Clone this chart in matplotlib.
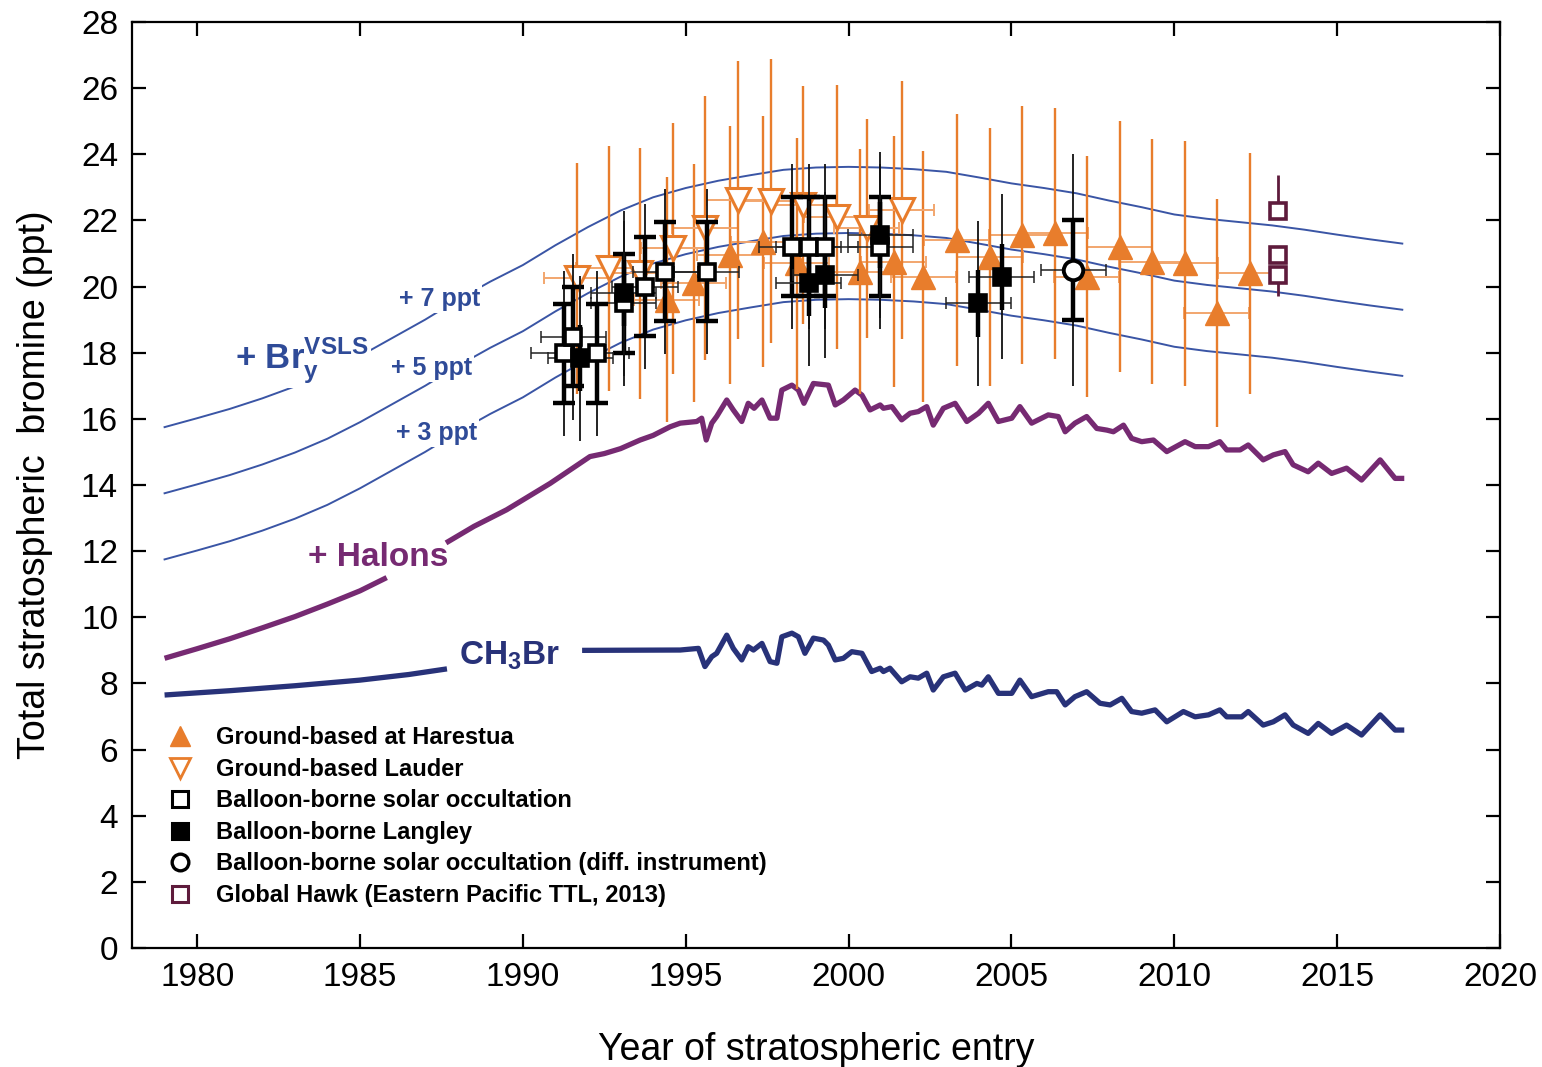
import numpy as np
import matplotlib
matplotlib.use("Agg")
import matplotlib.pyplot as plt
from matplotlib.lines import Line2D

plt.rcParams['font.family'] = ['Liberation Sans', 'DejaVu Sans']
plt.rcParams['mathtext.fontset'] = 'custom'
plt.rcParams['mathtext.rm'] = 'Liberation Sans'
plt.rcParams['mathtext.bf'] = 'Liberation Sans:bold'

# ---------------- data ----------------
ch3br_early_years = [1979.0, 1981.0, 1983.0, 1985.0, 1986.5, 1987.67]
ch3br_early_vals = [7.65, 7.78, 7.93, 8.10, 8.27, 8.44]

ch3br_years = [1991.9, 1994.83, 1995.39, 1995.59, 1995.80, 1995.95, 1996.26, 1996.46, 1996.72, 1996.92,
               1997.08, 1997.34, 1997.59, 1997.80, 1997.95, 1998.26, 1998.46, 1998.66, 1998.92, 1999.23,
               1999.38, 1999.59, 1999.84, 2000.10, 2000.41, 2000.71, 2000.97, 2001.07, 2001.27, 2001.63,
               2001.89, 2002.14, 2002.40, 2002.60, 2002.91, 2003.27, 2003.58, 2003.94, 2004.09, 2004.29,
               2004.60, 2005.01, 2005.26, 2005.62, 2006.13, 2006.39, 2006.65, 2006.95, 2007.31, 2007.72,
               2008.03, 2008.39, 2008.69, 2009.00, 2009.41, 2009.77, 2010.28, 2010.64, 2011.05, 2011.40,
               2011.61, 2012.07, 2012.27, 2012.73, 2013.04, 2013.40, 2013.65, 2014.11, 2014.42, 2014.83,
               2015.29, 2015.75, 2016.32, 2016.78, 2016.98]
ch3br_vals = [9.00, 9.01, 9.06, 8.51, 8.81, 8.91, 9.46, 9.06, 8.71, 9.11,
              9.01, 9.21, 8.66, 8.61, 9.41, 9.52, 9.41, 8.91, 9.37, 9.31,
              9.16, 8.71, 8.76, 8.96, 8.91, 8.36, 8.46, 8.36, 8.46, 8.05,
              8.20, 8.16, 8.31, 7.80, 8.20, 8.31, 7.80, 8.00, 7.95, 8.20,
              7.70, 7.70, 8.10, 7.60, 7.75, 7.75, 7.35, 7.60, 7.75, 7.40,
              7.35, 7.55, 7.15, 7.10, 7.20, 6.84, 7.15, 6.99, 7.05, 7.20,
              6.99, 6.99, 7.15, 6.74, 6.84, 7.05, 6.74, 6.49, 6.79, 6.49,
              6.74, 6.44, 7.05, 6.59, 6.59]

halon_early_years = [1979.0, 1980.0, 1981.0, 1982.0, 1983.0, 1984.0, 1985.0, 1985.82]
halon_early_vals = [8.76, 9.05, 9.35, 9.68, 10.02, 10.40, 10.80, 11.20]

halon_years = [1987.71, 1988.5, 1989.5, 1990.84, 1992.06, 1992.5, 1993.0, 1993.6, 1994.0, 1994.52,
               1994.83, 1995.34, 1995.49, 1995.63, 1995.80, 1995.95, 1996.26, 1996.46, 1996.72, 1996.92,
               1997.10, 1997.34, 1997.59, 1997.80, 1997.95, 1998.26, 1998.46, 1998.63, 1998.92, 1999.38,
               1999.59, 1999.84, 2000.20, 2000.41, 2000.66, 2000.97, 2001.07, 2001.33, 2001.63, 2001.89,
               2002.14, 2002.40, 2002.60, 2002.91, 2003.27, 2003.63, 2003.99, 2004.29, 2004.60, 2005.01,
               2005.26, 2005.62, 2006.13, 2006.44, 2006.65, 2006.95, 2007.31, 2007.62, 2007.93, 2008.13,
               2008.44, 2008.69, 2009.00, 2009.36, 2009.77, 2010.33, 2010.64, 2011.05, 2011.40, 2011.61,
               2012.02, 2012.27, 2012.73, 2013.04, 2013.40, 2013.65, 2014.11, 2014.42, 2014.83, 2015.29,
               2015.75, 2016.32, 2016.78, 2016.98]
halon_vals = [12.29, 12.75, 13.25, 14.05, 14.86, 14.95, 15.10, 15.36, 15.50, 15.76,
              15.87, 15.92, 16.02, 15.36, 15.87, 16.07, 16.57, 16.27, 15.92, 16.47,
              16.32, 16.57, 16.02, 16.02, 16.87, 17.02, 16.87, 16.47, 17.07, 17.02,
              16.42, 16.57, 16.87, 16.72, 16.27, 16.42, 16.32, 16.37, 15.97, 16.17,
              16.22, 16.37, 15.81, 16.32, 16.47, 15.92, 16.17, 16.47, 15.92, 16.02,
              16.37, 15.87, 16.12, 16.07, 15.61, 15.87, 16.07, 15.71, 15.66, 15.61,
              15.81, 15.41, 15.31, 15.36, 15.01, 15.31, 15.16, 15.16, 15.31, 15.06,
              15.06, 15.21, 14.76, 14.91, 15.01, 14.61, 14.40, 14.66, 14.35, 14.51,
              14.15, 14.76, 14.20, 14.20]

# total with +3 ppt VSLS (other curves offset by +2 and +4 ppt)
vsls_years = [1979, 1980, 1981, 1982, 1983, 1984, 1985, 1986, 1987, 1988, 1989, 1990, 1991, 1992,
              1993, 1994, 1995, 1996, 1997, 1998, 1999, 2000, 2001, 2002, 2003, 2004, 2005, 2006,
              2007, 2008, 2009, 2010, 2011, 2012, 2013, 2014, 2015, 2016, 2017]
vsls3_vals = [11.75, 12.02, 12.30, 12.62, 12.98, 13.40, 13.90, 14.45, 15.00, 15.60, 16.15, 16.65, 17.25, 17.80,
              18.30, 18.70, 18.98, 19.20, 19.37, 19.53, 19.60, 19.62, 19.60, 19.55, 19.47, 19.30, 19.12, 18.98,
              18.82, 18.60, 18.40, 18.18, 18.05, 17.95, 17.85, 17.72, 17.57, 17.43, 17.30]
vsls_offsets = [0, 2, 4]

# Ground-based Harestua
har_years = [1994.42, 1995.24, 1996.36, 1997.38, 1998.41, 2000.35, 2001.38, 2002.30, 2003.32, 2004.34,
             2005.32, 2006.34, 2007.31, 2008.33, 2009.31, 2010.33, 2011.30, 2012.33]
har_vals = [19.6, 20.10, 20.96, 21.36, 20.70, 20.45, 20.75, 20.30, 21.41, 20.90,
            21.56, 21.61, 20.30, 21.21, 20.75, 20.70, 19.19, 20.40]
har_err = [3.7, 3.6, 3.9, 3.8, 3.8, 3.7, 3.8, 3.8, 3.8, 3.9,
           3.9, 3.8, 3.65, 3.8, 3.7, 3.7, 3.45, 3.65]
har_xerr = 1.0

# Ground-based Lauder
lau_years = [1991.65, 1992.63, 1993.60, 1994.62, 1995.59, 1996.62, 1997.62, 1998.61, 1999.64, 2000.56, 2001.63]
lau_vals = [20.25, 20.55, 20.40, 21.16, 21.77, 22.62, 22.58, 22.47, 22.11, 21.76, 22.32]
lau_err = [3.5, 3.7, 3.8, 3.8, 4.0, 4.2, 4.3, 3.6, 4.0, 3.3, 3.9]
lau_xerr = 1.0

# Balloon-borne solar occultation
bso_years = [1991.25, 1991.55, 1992.27, 1993.09, 1993.75, 1994.37, 1995.64, 1998.26, 1998.77, 1999.28, 2000.97]
bso_vals = [17.98, 18.48, 17.98, 19.49, 20.00, 20.45, 20.45, 21.21, 21.21, 21.21, 21.21]
bso_err_in = 1.5
bso_err_out = 2.5
bso_xerr = 1.0

# Balloon-borne Langley
lan_years = [1991.76, 1993.09, 1998.77, 1999.28, 2000.97, 2003.98, 2004.70]
lan_vals = [17.83, 19.80, 20.10, 20.35, 21.56, 19.49, 20.30]
lan_err_in = 1.0
lan_err_out = 2.5
lan_xerr = 1.0

# Balloon-borne solar occultation (diff. instrument)
bsd_years = [2006.90]
bsd_vals = [20.50]
bsd_err_in = 1.5
bsd_err_out = 3.5
bsd_xerr = 1.0

# Global Hawk
gh_years = [2013.19, 2013.19, 2013.19]
gh_vals = [22.27, 20.96, 20.35]
gh_err_lo = [0.0, 0.0, 0.65]
gh_err_hi = [1.1, 0.0, 0.0]

legend_labels = ["Ground-based at Harestua", "Ground-based Lauder", "Balloon-borne solar occultation",
                 "Balloon-borne Langley", "Balloon-borne solar occultation (diff. instrument)",
                 "Global Hawk (Eastern Pacific TTL, 2013)"]

x_ticks = [1980, 1985, 1990, 1995, 2000, 2005, 2010, 2015, 2020]
y_ticks = list(range(0, 29, 2))

# ---------------- style ----------------
ORANGE = '#e87d2c'
ORANGE_L = '#f2a66e'
BLUE_THIN = '#3a55a5'
PURPLE = '#762a72'
NAVY = '#283279'
MAROON = '#5e1b3c'
TXT_BLUE = '#2f4b98'

fig = plt.figure(figsize=(15.42, 10.67), dpi=100)
ax = fig.add_axes([132/1542, 1-948/1067, (1500-132)/1542, (948-22)/1067])

# model curves
for off in vsls_offsets:
    ax.plot(vsls_years, np.array(vsls3_vals) + off, color=BLUE_THIN, lw=1.4, zorder=2)
ax.plot(halon_early_years, halon_early_vals, color=PURPLE, lw=3.8, solid_capstyle='butt', zorder=2)
ax.plot(halon_years, halon_vals, color=PURPLE, lw=3.8, solid_joinstyle='round', zorder=2)
ax.plot(ch3br_early_years, ch3br_early_vals, color=NAVY, lw=3.8, solid_capstyle='butt', zorder=2)
ax.plot(ch3br_years, ch3br_vals, color=NAVY, lw=3.8, solid_joinstyle='round', zorder=2)

# Harestua
ax.errorbar(har_years, har_vals, xerr=har_xerr, fmt='none', ecolor=ORANGE_L, elinewidth=1.4,
            capsize=4.5, capthick=1.4, zorder=3)
ax.errorbar(har_years, har_vals, yerr=har_err, fmt='none', ecolor=ORANGE, elinewidth=1.7, zorder=3)
# Lauder
ax.errorbar(lau_years, lau_vals, xerr=lau_xerr, fmt='none', ecolor=ORANGE_L, elinewidth=1.4,
            capsize=4.5, capthick=1.4, zorder=3)
ax.errorbar(lau_years, lau_vals, yerr=lau_err, fmt='none', ecolor=ORANGE, elinewidth=1.7, zorder=3)
ax.plot(har_years, har_vals, '^', ms=17, color=ORANGE, mec=ORANGE, zorder=4, ls='none')
ax.plot(lau_years, lau_vals, 'v', ms=17, mfc='white', mec=ORANGE, mew=2.2, zorder=4, ls='none')

# black balloon data
def black_series(xs, ys, e_in, e_out, xe, caps_in):
    ax.errorbar(xs, ys, xerr=xe, fmt='none', ecolor='#222222', elinewidth=1.1, capsize=4.5,
                capthick=1.1, zorder=5)
    ax.errorbar(xs, ys, yerr=e_out, fmt='none', ecolor='#111111', elinewidth=1.3, zorder=5)
    ax.errorbar(xs, ys, yerr=e_in, fmt='none', ecolor='black', elinewidth=3.2,
                capsize=8 if caps_in else 0, capthick=3.2, zorder=5)

black_series(bso_years, bso_vals, bso_err_in, bso_err_out, bso_xerr, True)
black_series(lan_years, lan_vals, lan_err_in, lan_err_out, lan_xerr, False)
black_series(bsd_years, bsd_vals, bsd_err_in, bsd_err_out, bsd_xerr, True)
ax.plot(bso_years, bso_vals, 's', ms=12, mfc='white', mec='black', mew=2.6, zorder=6, ls='none')
ax.plot(lan_years, lan_vals, 's', ms=12, mfc='black', mec='black', mew=2.6, zorder=6, ls='none')
ax.plot(bsd_years, bsd_vals, 'o', ms=14, mfc='white', mec='black', mew=2.8, zorder=6, ls='none')

# Global Hawk
ax.errorbar(gh_years, gh_vals, yerr=[gh_err_lo, gh_err_hi], fmt='none', ecolor=MAROON, elinewidth=2.0, zorder=5)
ax.plot(gh_years, gh_vals, 's', ms=12, mfc='white', mec=MAROON, mew=2.6, zorder=6, ls='none')

# curve labels
bb = dict(facecolor='white', edgecolor='none', pad=1.5)
ax.text(1981.17, 17.75, r"+ Br$_\mathregular{y}^\mathregular{VSLS}$", fontsize=25, fontweight='bold',
        color=TXT_BLUE, ha='left', va='center', zorder=3, bbox=bb)
ax.text(1987.45, 19.62, "+ 7 ppt", fontsize=18, fontweight='bold', color=TXT_BLUE, ha='center', va='center',
        zorder=3, bbox=bb)
ax.text(1987.2, 17.55, "+ 5 ppt", fontsize=18, fontweight='bold', color=TXT_BLUE, ha='center', va='center',
        zorder=3, bbox=bb)
ax.text(1987.35, 15.58, "+ 3 ppt", fontsize=18, fontweight='bold', color=TXT_BLUE, ha='center', va='center',
        zorder=3, bbox=bb)
ax.text(1985.55, 11.8, "+ Halons", fontsize=24, fontweight='bold', color=PURPLE, ha='center', va='center',
        zorder=3)
ax.text(1989.6, 8.85, r"CH$_\mathregular{3}$Br", fontsize=24, fontweight='bold', color=NAVY, ha='center',
        va='center', zorder=3)

# axes
ax.set_xlim(1978, 2020)
ax.set_ylim(0, 28)
ax.set_xticks(x_ticks)
ax.set_yticks(y_ticks)
ax.tick_params(direction='in', length=10, width=1.6, top=True, right=True, labelsize=24, pad=10)
for s in ax.spines.values():
    s.set_linewidth(1.6)
ax.set_xlabel("Year of stratospheric entry", fontsize=27, labelpad=28)
ax.set_ylabel("Total stratospheric  bromine (ppt)", fontsize=27, labelpad=20)

# legend
handles = [
    Line2D([], [], marker='^', ls='none', ms=15, color=ORANGE),
    Line2D([], [], marker='v', ls='none', ms=15, mfc='white', mec=ORANGE, mew=2),
    Line2D([], [], marker='s', ls='none', ms=11, mfc='white', mec='black', mew=2.2),
    Line2D([], [], marker='s', ls='none', ms=11, mfc='black', mec='black', mew=2.2),
    Line2D([], [], marker='o', ls='none', ms=12, mfc='white', mec='black', mew=2.4),
    Line2D([], [], marker='s', ls='none', ms=11, mfc='white', mec=MAROON, mew=2.2),
]
ax.legend(handles, legend_labels, loc='upper left', bbox_to_anchor=(0.018, 0.2495), frameon=False,
          prop={'weight': 'bold', 'size': 17}, handlelength=1.2, handletextpad=0.9,
          labelspacing=0.36, borderaxespad=0)

fig.savefig("out.png", dpi=100)
